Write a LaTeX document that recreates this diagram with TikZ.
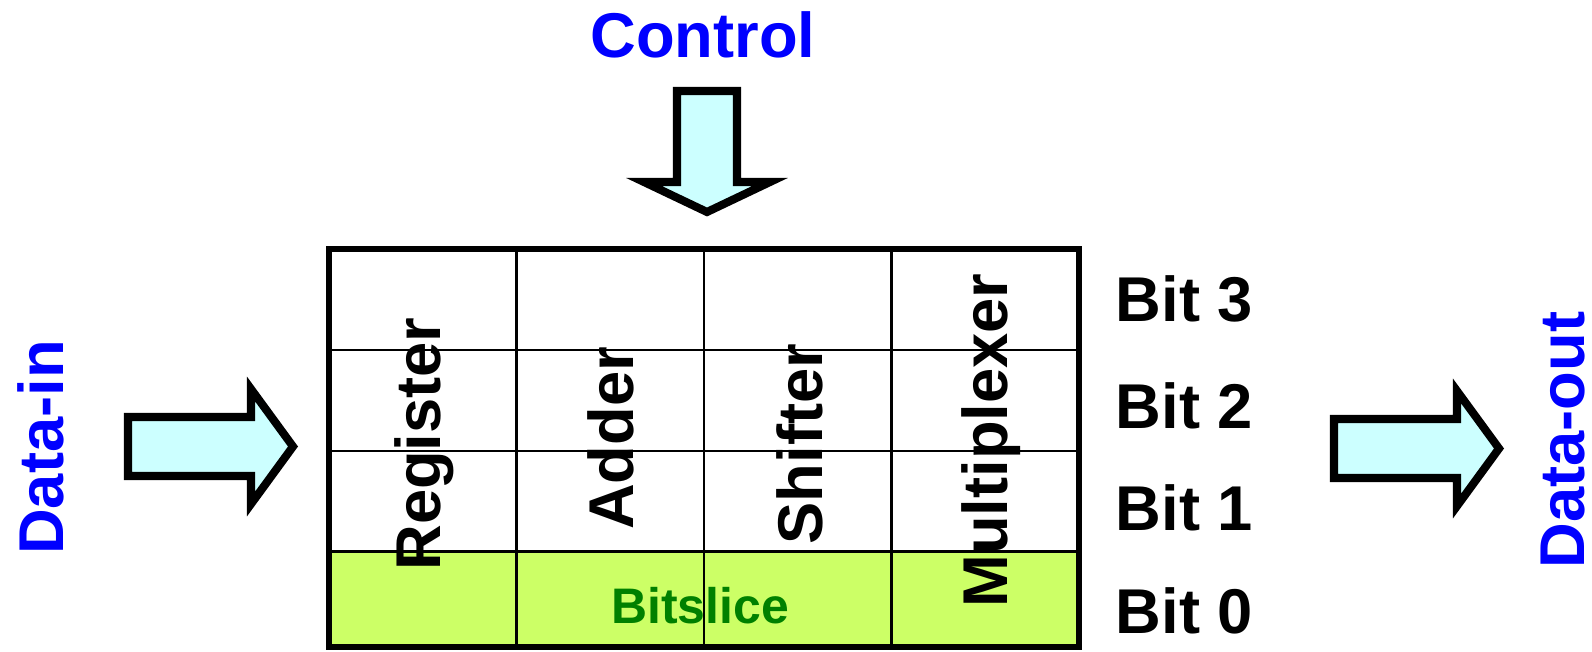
\documentclass[tikz,border=0pt]{standalone}
\usepackage{fontspec}
\setmainfont{Liberation Sans}
\usetikzlibrary{positioning}
\definecolor{flowfill}{RGB}{204,255,255}
\definecolor{slicefill}{RGB}{204,255,102}
\definecolor{portblue}{RGB}{0,0,255}
\definecolor{slicegreen}{RGB}{0,128,0}
\tikzset{
  bigarrow/.style={
    draw,
    line width=2.3pt,
    fill=flowfill,
    miter limit=10
  },
  bigfont/.style={font=\fontsize{18}{20}\selectfont\bfseries},
  port/.style={bigfont, text=portblue, inner sep=0pt},
  unit/.style={bigfont, rotate=90, anchor=base, inner sep=0pt},
  bitlabel/.style={bigfont, anchor=base west, inner sep=0pt}
}

\begin{document}
\begin{tikzpicture}[
      x=0.01cm,
      y=-0.01cm,
      gridline/.style={line width=0.7pt},
      frame/.style={line width=1.7pt}
    ]
    \useasboundingbox (0,0) rectangle (1592,652);

    % datapath frame, 4 units x 4 bits
    \coordinate (sliceNW) at (329,249);
    \coordinate (sliceSE) at (1079,647);
    \fill[slicefill] (329,551.5) rectangle (sliceSE);
    \foreach \c in {1,2,3}
      \draw[gridline] (329+187.5*\c,249) -- (329+187.5*\c,647);
    \foreach \r in {350,451,551.5}
      \draw[gridline] (329,\r) -- (1079,\r);
    \draw[frame] (sliceNW) rectangle (sliceSE);

    \node[unit] (register) at (440,444) {Register};
    \node[unit] (adder) at (633,438.5) {Adder};
    \node[unit] (shifter) at (822,444) {Shifter};
    \node[unit] (mux) at (1007,440.5) {Multiplexer};
    \node[font=\fontsize{14.2}{16}\selectfont\bfseries, text=slicegreen,
      anchor=base, inner sep=0pt] (bitslice) at (700,623) {Bitslice};

    \node[bitlabel] (bit3) at (1115,321) {Bit 3};
    \node[bitlabel] (bit2) at (1115,428) {Bit 2};
    \node[bitlabel] (bit1) at (1115,530) {Bit 1};
    \node[bitlabel] (bit0) at (1115,633) {Bit 0};

    % control in from the top
    \node[port, anchor=base] (control) at (703,58) {Control};
    \draw[bigarrow] (677,91) -- (737,91) -- (737,182) -- (770,182)
      -- (707,212) -- (644,182) -- (677,182) -- cycle;

    % data in and out
    \node[port, rotate=90, anchor=base] (datain) at (63,447.5) {Data-in};
    \draw[bigarrow] (128,417) -- (251,417) -- (251,389) -- (293,446.5)
      -- (251,504) -- (251,476) -- (128,476) -- cycle;

    \node[port, rotate=90, anchor=base] (dataout) at (1584,440) {Data-out};
    \draw[bigarrow] (1334,419) -- (1457,419) -- (1457,391) -- (1499,448.5)
      -- (1457,506) -- (1457,478) -- (1334,478) -- cycle;
  \end{tikzpicture}
\end{document}
